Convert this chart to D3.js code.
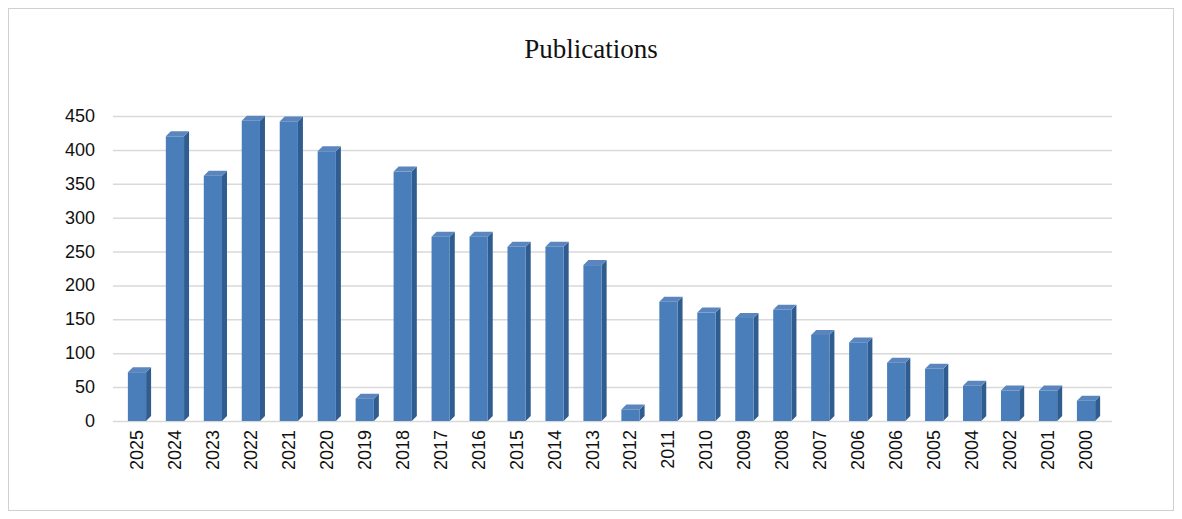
<!DOCTYPE html>
<html><head><meta charset="utf-8">
<script src="https://cdn.jsdelivr.net/npm/d3@7"></script>
<style>body{margin:0;background:#fff}svg{display:block}</style>
</head><body>
<svg id="chart" width="1182" height="519"></svg>
<script>
// Data
const years = ['2025','2024','2023','2022','2021','2020','2019','2018','2017','2016','2015','2014','2013',
  '2012','2011','2010','2009','2008','2007','2006','2006','2005','2004','2002','2001','2000'];
const counts = [72, 420, 362, 443, 442, 398, 33, 368, 272, 272, 257, 257, 230,
  17, 176, 160, 152, 164, 127, 116, 86, 77, 52, 45, 45, 30];
const yTicks = [0, 50, 100, 150, 200, 250, 300, 350, 400, 450];

const svg = d3.select('#chart');
const m = { left: 113, right: 1112, top: 116, bottom: 421 };
const depth = 5;

svg.append('rect').attr('x', 8.5).attr('y', 8.5).attr('width', 1165).attr('height', 502)
  .attr('fill', '#fff').attr('stroke', '#d0d0d0');

svg.append('text').attr('x', 591).attr('y', 58).attr('text-anchor', 'middle')
  .attr('font-family', 'Liberation Serif, serif').attr('font-size', 27).attr('fill', '#111')
  .text('Publications');

const x = d3.scaleBand().domain(d3.range(years.length)).range([118, 1105]).paddingInner(0.52).paddingOuter(0.26);
const y = d3.scaleLinear().domain([0, 450]).range([m.bottom, m.top]);

// gridlines
svg.append('g').selectAll('line').data(yTicks).join('line')
  .attr('x1', m.left).attr('x2', m.right)
  .attr('y1', d => y(d) + 0.5).attr('y2', d => y(d) + 0.5)
  .attr('stroke', '#d9d9d9').attr('stroke-width', 1.5);

svg.append('g').selectAll('text').data(yTicks).join('text')
  .attr('x', 95).attr('y', d => y(d) + 6).attr('text-anchor', 'end')
  .attr('font-family', 'Liberation Sans, Arial, sans-serif').attr('font-size', 18).attr('fill', '#111')
  .text(d => d);

const bars = svg.append('g').selectAll('g').data(counts).join('g');
const bw = x.bandwidth();
// side face
bars.append('path').attr('fill', '#2f5d8f')
  .attr('d', (d, i) => {
    const x1 = x(i) + bw, y0 = y(0), y1 = y(d);
    return `M${x1},${y0}L${x1 + depth},${y0 - depth}L${x1 + depth},${y1 - depth}L${x1},${y1}Z`;
  });
// top face
bars.append('path').attr('fill', '#5b86bd')
  .attr('d', (d, i) => {
    const x0 = x(i), y1 = y(d);
    return `M${x0},${y1}L${x0 + depth},${y1 - depth}L${x0 + bw + depth},${y1 - depth}L${x0 + bw},${y1}Z`;
  });
// front face
bars.append('rect').attr('fill', '#4a7ebb')
  .attr('x', (d, i) => x(i)).attr('y', d => y(d))
  .attr('width', bw).attr('height', d => y(0) - y(d));

svg.append('g').selectAll('text').data(years).join('text')
  .attr('transform', (d, i) => `translate(${x(i) + bw / 2 + 6},430) rotate(-90)`)
  .attr('text-anchor', 'end')
  .attr('font-family', 'Liberation Sans, Arial, sans-serif').attr('font-size', 18).attr('fill', '#111')
  .text(d => d);
</script>
</body></html>
